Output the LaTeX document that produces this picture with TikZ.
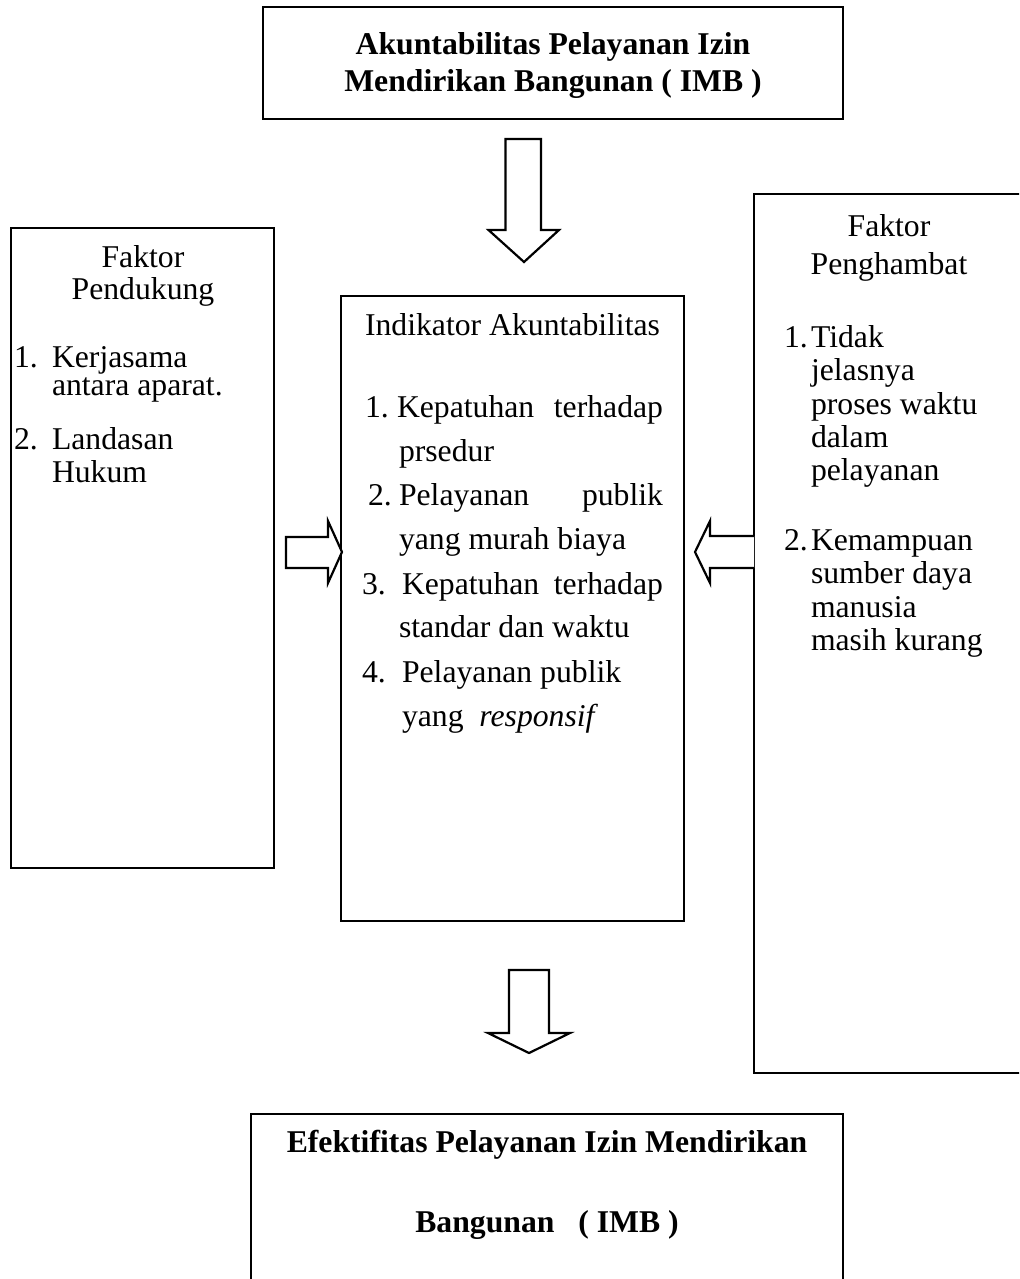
\documentclass[tikz,border=0pt]{standalone}
\usepackage{fontspec}
\setmainfont{Liberation Serif}[Ligatures=NoCommon]
\newcommand\myfs{\fontsize{15.85pt}{19pt}\selectfont}
\begin{document}
\begin{tikzpicture}[x=0.5pt,y=-0.5pt,line width=1.1pt,line join=miter,
  box/.style={draw,rectangle,inner sep=0pt,outer sep=0pt},
  tl/.style={inner sep=0pt,outer sep=0pt,anchor=base west,font=\myfs},
  tc/.style={inner sep=0pt,outer sep=0pt,anchor=base,font=\myfs},
  tb/.style={inner sep=0pt,outer sep=0pt,anchor=base,font=\myfs\bfseries},
  blockarrow/.style={draw,fill=white,line width=1.1pt}]
\useasboundingbox (0,0) rectangle (1019,1279);
\clip (0,0) rectangle (1019,1279);
\fill[white] (0,0) rectangle (1019,1279);

% boxes
\node[box,minimum width=290pt,minimum height=56pt] (top) at (553,63) {};
\node[box,minimum width=131.5pt,minimum height=320pt] (left) at (142.5,548) {};
\node[box,minimum width=171.5pt,minimum height=312.5pt] (mid) at (512.5,608.5) {};
\node[box,minimum width=143pt,minimum height=439.5pt] (right) at (897,633.5) {};
\node[box,minimum width=296pt,minimum height=93pt] (bottom) at (547,1207) {};

% top text
\node[tb] (t1) at (553,55) {Akuntabilitas Pelayanan Izin};
\node[tb] (t2) at (553,92) {Mendirikan Bangunan ( IMB )};

% left text
\node[tc] (l1) at (143,267) {Faktor};
\node[tc] (l2) at (143,299) {Pendukung};
\node[tl] (l3n) at (14,367) {1.};
\node[tl] (l3) at (52,367) {Kerjasama};
\node[tl] (l4) at (52,395) {antara aparat.};
\node[tl] (l5n) at (14,449) {2.};
\node[tl] (l5) at (52,449) {Landasan};
\node[tl] (l6) at (52,482) {Hukum};

% middle text
\node[tc] (m0) at (512.5,335) {Indikator Akuntabilitas};
\node[tl] (m1n) at (365,417) {1.};
\node[tl] (m1) at (397,417) {\makebox[133pt][s]{Kepatuhan terhadap}};
\node[tl] (m2) at (399,461) {prsedur};
\node[tl] (m3n) at (368,505) {2.};
\node[tl] (m3) at (399,505) {\makebox[132pt][s]{Pelayanan publik}};
\node[tl] (m4) at (399,549) {yang murah biaya};
\node[tl] (m5n) at (362,594) {3.};
\node[tl] (m5) at (402,594) {\makebox[130.5pt][s]{Kepatuhan terhadap}};
\node[tl] (m6) at (399,637) {standar dan waktu};
\node[tl] (m7n) at (362,682) {4.};
\node[tl] (m7) at (402,682) {Pelayanan publik};
\node[tl] (m8) at (402,726) {yang\ \ \textit{responsif}};

% right text
\node[tc] (r1) at (889,236) {Faktor};
\node[tc] (r2) at (889,274) {Penghambat};
\node[tl] (r3n) at (784,347) {1.};
\node[tl] (r3) at (811,347) {Tidak};
\node[tl] (r4) at (811,380) {jelasnya};
\node[tl] (r5) at (811,414) {proses waktu};
\node[tl] (r6) at (811,447) {dalam};
\node[tl] (r7) at (811,480) {pelayanan};
\node[tl] (r8n) at (784,550) {2.};
\node[tl] (r8) at (811,550) {Kemampuan};
\node[tl] (r9) at (811,583) {sumber daya};
\node[tl] (r10) at (811,617) {manusia};
\node[tl] (r11) at (811,650) {masih kurang};

% bottom text
\node[tb] (b1) at (547,1152) {Efektifitas Pelayanan Izin Mendirikan};
\node[tb] (b2) at (547,1232) {Bangunan\ \ \ ( IMB )};

% block arrows
\draw[blockarrow] (505.5,139) -- (541,139) -- (541,230) -- (559,230) -- (524,262) -- (488.5,230) -- (505.5,230) -- cycle;
\draw[blockarrow] (509,970) -- (549,970) -- (549,1033) -- (570,1033) -- (529,1053) -- (488,1033) -- (509,1033) -- cycle;
\draw[blockarrow] (286,537) -- (328,537) -- (328,521) -- (342,552) -- (328,583) -- (328,568) -- (286,568) -- cycle;
\draw[blockarrow] (754,536) -- (710,536) -- (710,521) -- (695,552) -- (710,583) -- (710,568) -- (754,568);
\end{tikzpicture}
\end{document}
